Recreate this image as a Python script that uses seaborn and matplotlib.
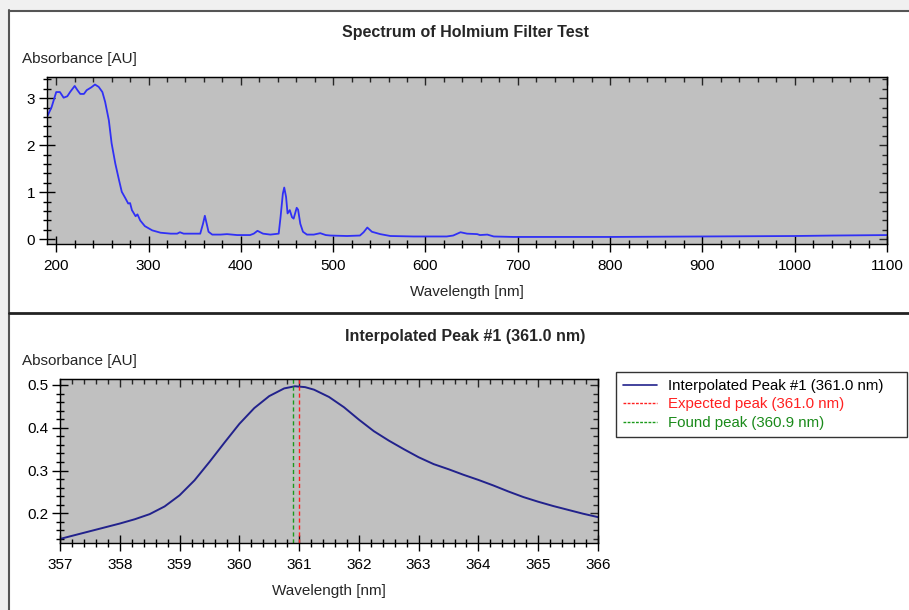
import numpy as np
import pandas as pd
import matplotlib
matplotlib.use("Agg")
import matplotlib.pyplot as plt
from matplotlib.ticker import MultipleLocator, FormatStrFormatter, NullFormatter
from matplotlib.patches import Rectangle
from matplotlib.lines import Line2D
import seaborn as sns

# ---------------- data ----------------
spec_wl = [190, 195, 200, 204, 208, 212, 215, 220, 223, 226, 230, 233, 238, 242, 246,
           250, 253, 257, 260, 264, 268, 271, 275, 278, 280, 282, 286, 288, 291, 296,
           304, 313, 324, 331, 334, 338, 356, 359, 361, 363, 365, 369, 378, 385, 396,
           410, 414, 418, 424, 432, 441, 443, 445.5, 447, 449, 450.6, 453, 455.4, 457.2,
           460.5, 462, 464.4, 467.3, 471.6, 479, 486, 492, 497, 515, 529, 533, 537,
           542, 551, 562, 587, 623, 630, 638, 645, 656, 659, 667, 674, 695, 800, 900,
           1000, 1042, 1100]
spec_abs = [2.60, 2.81, 3.13, 3.13, 3.01, 3.04, 3.13, 3.26, 3.17, 3.09, 3.09, 3.17, 3.23, 3.29, 3.24,
            3.13, 2.92, 2.53, 2.04, 1.61, 1.26, 1.01, 0.87, 0.76, 0.77, 0.62, 0.49, 0.53, 0.40, 0.28,
            0.19, 0.14, 0.12, 0.12, 0.15, 0.12, 0.12, 0.33, 0.50, 0.33, 0.16, 0.10, 0.10, 0.11, 0.09,
            0.09, 0.12, 0.18, 0.12, 0.10, 0.12, 0.47, 0.97, 1.10, 0.90, 0.55, 0.62, 0.47, 0.44,
            0.67, 0.63, 0.33, 0.16, 0.10, 0.10, 0.13, 0.09, 0.08, 0.07, 0.08, 0.15, 0.25,
            0.16, 0.11, 0.07, 0.06, 0.06, 0.08, 0.15, 0.12, 0.11, 0.09, 0.10, 0.06, 0.05, 0.05, 0.06,
            0.07, 0.08, 0.09]

peak_wl = [357.0, 357.25, 357.5, 357.75, 358.0, 358.25, 358.5, 358.75, 359.0, 359.25,
           359.5, 359.75, 360.0, 360.25, 360.5, 360.75, 360.93, 361.1, 361.25, 361.5,
           361.75, 362.0, 362.25, 362.5, 362.75, 363.0, 363.25, 363.5, 363.75, 364.0,
           364.25, 364.5, 364.75, 365.0, 365.25, 365.5, 365.75, 366.0]
peak_abs = [0.140, 0.149, 0.158, 0.167, 0.176, 0.186, 0.198, 0.216, 0.242, 0.277,
            0.320, 0.365, 0.409, 0.446, 0.474, 0.492, 0.497, 0.495, 0.489, 0.472,
            0.448, 0.419, 0.392, 0.370, 0.350, 0.331, 0.315, 0.303, 0.290, 0.278,
            0.265, 0.251, 0.238, 0.227, 0.217, 0.208, 0.199, 0.191]

expected_peak = 361.0
found_peak = 360.9

top_title = "Spectrum of Holmium Filter Test"
bottom_title = "Interpolated Peak #1 (361.0 nm)"
ylab = "Absorbance [AU]"
xlab = "Wavelength [nm]"
legend_labels = ["Interpolated Peak #1 (361.0 nm)", "Expected peak (361.0 nm)", "Found peak (360.9 nm)"]

# ---------------- style ----------------
sns.set_style("white")
plt.rcParams['font.family'] = ['Liberation Sans', 'DejaVu Sans']
FS = 11
TFS = 11.5

W, H = 909, 610
fig = plt.figure(figsize=(W / 100, H / 100), dpi=100)
fig.patch.set_facecolor('white')

def fx(px):
    return px / W

def fy(py):
    return 1 - py / H

def add_ax(l, t, r, b):
    return fig.add_axes([fx(l), fy(b), fx(r) - fx(l), (b - t) / H])

# outer light band and frame
fig.add_artist(Rectangle((0, fy(10)), 1, 10 / H, transform=fig.transFigure,
                         facecolor='#f0f0f0', edgecolor='none', zorder=0))
fig.add_artist(Rectangle((0, 0), fx(8), 1, transform=fig.transFigure,
                         facecolor='#f0f0f0', edgecolor='none', zorder=0))
fig.add_artist(Line2D([fx(9), fx(9)], [0, fy(10)], transform=fig.transFigure,
                      color='#555555', lw=1.5))
fig.add_artist(Line2D([fx(9), 1], [fy(10.5), fy(10.5)], transform=fig.transFigure,
                      color='#555555', lw=1.5))
fig.add_artist(Line2D([fx(9), 1], [fy(312.5), fy(312.5)], transform=fig.transFigure,
                      color='#222222', lw=2))


def style_axes(ax, xmaj, xmin, ymaj, ymin):
    ax.set_facecolor('#c0c0c0')
    for s in ax.spines.values():
        s.set_visible(True)
        s.set_color('black')
        s.set_linewidth(1.0)
    ax.xaxis.set_major_locator(MultipleLocator(xmaj))
    ax.xaxis.set_minor_locator(MultipleLocator(xmin))
    ax.yaxis.set_major_locator(MultipleLocator(ymaj))
    ax.yaxis.set_minor_locator(MultipleLocator(ymin))
    ax.tick_params(axis='both', which='both', left=True, bottom=True, top=False, right=False,
                   colors='black', width=1.0, labelsize=FS)
    ax.tick_params(axis='x', which='major', direction='inout', length=11, pad=5)
    ax.tick_params(axis='x', which='minor', direction='inout', length=6)
    ax.tick_params(axis='y', which='major', direction='inout', length=11, pad=3)
    ax.tick_params(axis='y', which='minor', direction='inout', length=6)
    ax.set_xlabel(xlab, fontsize=FS, labelpad=9)
    ax.set_ylabel("")
    # top / right inward ticks
    sx = ax.secondary_xaxis('top')
    sx.xaxis.set_major_locator(MultipleLocator(xmaj))
    sx.xaxis.set_minor_locator(MultipleLocator(xmin))
    sx.xaxis.set_major_formatter(NullFormatter())
    sx.tick_params(which='major', direction='in', length=6, width=1.0)
    sx.tick_params(which='minor', direction='in', length=3.5, width=1.0)
    sy = ax.secondary_yaxis('right')
    sy.yaxis.set_major_locator(MultipleLocator(ymaj))
    sy.yaxis.set_minor_locator(MultipleLocator(ymin))
    sy.yaxis.set_major_formatter(NullFormatter())
    sy.tick_params(which='major', direction='in', length=6, width=1.0)
    sy.tick_params(which='minor', direction='in', length=3.5, width=1.0)


# ---------------- top chart ----------------
ax1 = add_ax(47, 77, 887, 244)
df1 = pd.DataFrame({"wl": spec_wl, "abs": spec_abs})
sns.lineplot(data=df1, x="wl", y="abs", ax=ax1, color='#3030f5', lw=1.3)
ax1.set_xlim(190, 1100)
ax1.set_ylim(-0.1, 3.45)
style_axes(ax1, 100, 20, 1, 0.2)
fig.text(fx(465), fy(33), top_title, ha='center', va='center', fontsize=TFS, fontweight='bold')
fig.text(fx(22), fy(59), ylab, ha='left', va='center', fontsize=FS)

# ---------------- bottom chart ----------------
ax2 = add_ax(60, 379, 598, 543)
df2 = pd.DataFrame({"wl": peak_wl, "abs": peak_abs})
sns.lineplot(data=df2, x="wl", y="abs", ax=ax2, color='#22228c', lw=1.4)
ax2.axvline(found_peak, color='#1a9a1a', lw=1.0, ls=(0, (3, 2)))
ax2.axvline(expected_peak, color='#ff2020', lw=1.0, ls=(0, (3, 2)))
ax2.set_xlim(357, 366)
ax2.set_ylim(0.1305, 0.514)
style_axes(ax2, 1, 0.2, 0.1, 0.02)
ax2.yaxis.set_major_formatter(FormatStrFormatter('%g'))
fig.text(fx(465), fy(336), bottom_title, ha='center', va='center', fontsize=TFS, fontweight='bold')
fig.text(fx(22), fy(361), ylab, ha='left', va='center', fontsize=FS)

handles = [Line2D([], [], color='#22228c', lw=1.2),
           Line2D([], [], color='#ff2020', lw=1.0, ls=(0, (2, 1))),
           Line2D([], [], color='#1a9a1a', lw=1.0, ls=(0, (2, 1)))]
leg = fig.legend(handles, legend_labels, loc='upper left', mode='expand',
                 bbox_to_anchor=(fx(616), fy(437), fx(907) - fx(616), 65 / H),
                 bbox_transform=fig.transFigure,
                 fontsize=10.8, frameon=True, fancybox=False, handlelength=2.3,
                 handletextpad=0.75, borderpad=0.45, labelspacing=0.3, borderaxespad=0)
leg.get_frame().set_edgecolor('black')
leg.get_frame().set_linewidth(1.0)
for t, c in zip(leg.get_texts(), ['black', '#ff2020', '#1a8a1a']):
    t.set_color(c)

fig.savefig("out.png", dpi=100)
